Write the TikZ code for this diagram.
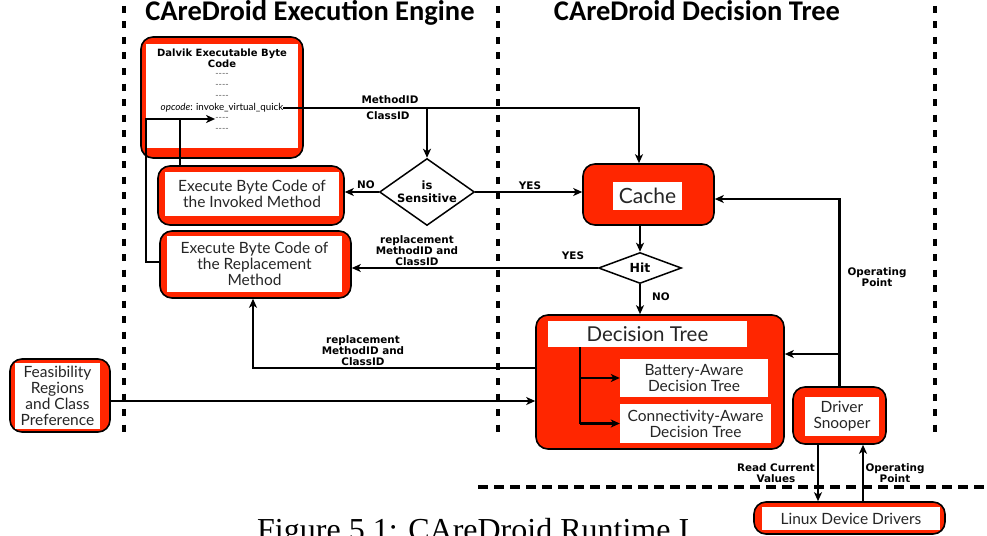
\documentclass[tikz,border=0pt]{standalone}
\usepackage{fontspec}
\usetikzlibrary{arrows.meta,shapes.geometric,calc}

\newfontfamily\bodyfont{Lato}
\newfontfamily\heavyfont{DejaVu Sans}
\newfontfamily\headfont{Carlito}
\newfontfamily\captionserif{Liberation Serif}

\definecolor{boxred}{RGB}{255,38,0}

\tikzset{
  redbox/.style={draw=black, line width=1.6pt, fill=boxred, rounded corners=12pt,
                 inner sep=0pt},
  whitebox/.style={fill=white, inner sep=0pt, align=center, text=black!85,
                   font=\bodyfont\fontsize{15.5}{16}\selectfont},
  decision/.style={diamond, draw=black, line width=1.5pt, fill=white, inner sep=0pt,
                   align=center, font=\heavyfont\bfseries\fontsize{11.5}{13}\selectfont},
  conn/.style={line width=2.2pt, -{Stealth[length=9pt,width=8pt,inset=2.5pt]}},
  plain/.style={line width=2.2pt},
  lbl/.style={align=center, inner sep=0pt,
              font=\heavyfont\bfseries\fontsize{10.4}{11}\selectfont},
  codeline/.style={inner sep=0pt, text=black!65,
                   font=\bodyfont\fontsize{9}{9}\selectfont},
  sectiontitle/.style={inner sep=0pt, anchor=base,
                       font=\headfont\bfseries\fontsize{28.5}{30}\selectfont},
  column/.style={line width=4pt, dash pattern=on 7pt off 8.5pt},
  tierline/.style={line width=4pt, dash pattern=on 10pt off 6pt},
}

\begin{document}
\begin{tikzpicture}[x=1pt, y=-1pt]
\useasboundingbox (0,0) rectangle (987,535);

% column separators
\draw[column] (124,6) -- (124,432);
\draw[column] (498,6) -- (498,432);
\draw[column] (935,6) -- (935,432);
\draw[tierline] (478,487) -- (987,487);

% section headings
\node[sectiontitle] (ttlA) at (310,21) {CAreDroid Execution Engine};
\node[sectiontitle] (ttlB) at (697,21) {CAreDroid Decision Tree};

% byte code listing
\node[redbox, minimum width=162pt, minimum height=121pt] (dalvik) at (222,97.5) {};
\node[fill=white, inner sep=0pt, minimum width=152pt, minimum height=104pt] (dalvikin) at (222,96) {};
\node[inner sep=0pt, align=center, font=\heavyfont\bfseries\fontsize{10}{10.5}\selectfont]
  (dalvikttl) at (222,58.5) {Dalvik Executable Byte\\Code};
\node[codeline] (d1) at (222,75) {----};
\node[codeline] (d2) at (222,86) {----};
\node[codeline] (d3) at (222,97) {----};
\node[inner sep=0pt, font=\bodyfont\fontsize{9.8}{10}\selectfont] (opcode) at (222,108)
  {\textit{opcode}: invoke\_virtual\_quick};
\node[codeline] (d4) at (222,119) {----};
\node[codeline] (d5) at (222,129.5) {----};

% execution boxes
\node[redbox, minimum width=186pt, minimum height=59pt] (invoked) at (251,195.5) {};
\node[whitebox, minimum width=174pt, minimum height=44pt] (invokedin) at (252,194)
  {Execute Byte Code of\\the Invoked Method};
\node[redbox, minimum width=191pt, minimum height=67pt] (replace) at (255.5,264.5) {};
\node[whitebox, minimum width=175pt, minimum height=56pt] (replacein) at (254.5,264)
  {Execute Byte Code of\\the Replacement\\Method};

% decisions
\node[decision, minimum width=95pt, minimum height=67pt, aspect=1.42] (sens) at (427,192)
  {is\\Sensitive};
\node[decision, minimum width=83pt, minimum height=31pt, aspect=2.7,
      font=\heavyfont\bfseries\fontsize{12.5}{13}\selectfont] (hit) at (640,268) {Hit};

% cache
\node[redbox, minimum width=131pt, minimum height=61pt] (cache) at (648.5,194.5) {};
\node[whitebox, minimum width=69pt, minimum height=28pt,
      font=\bodyfont\fontsize{21}{22}\selectfont] (cachein) at (647.5,196) {Cache};

% decision tree block
\node[redbox, minimum width=248pt, minimum height=134pt] (dtree) at (660,382) {};
\node[whitebox, minimum width=199pt, minimum height=26pt,
      font=\bodyfont\fontsize{20.5}{22}\selectfont] (dthead) at (647.5,334) {Decision Tree};
\node[whitebox, minimum width=148pt, minimum height=38pt] (battery) at (694,378)
  {Battery-Aware\\Decision Tree};
\node[whitebox, minimum width=151pt, minimum height=39pt] (connect) at (695.5,423.5)
  {Connectivity-Aware\\Decision Tree};
\coordinate (trunk) at ($(dthead.south west)+(32pt,0)$);
\draw[plain] (trunk) -- (trunk |- connect.west);
\draw[conn] (trunk |- battery.west) -- (battery.west);
\draw[conn] (trunk |- connect.west) -- (connect.west);

% driver side
\node[redbox, minimum width=93pt, minimum height=57pt] (snoop) at (839.5,415.5) {};
\node[whitebox, minimum width=74pt, minimum height=39pt] (snoopin) at (842,416.5)
  {Driver\\Snooper};
\node[redbox, minimum width=191pt, minimum height=32pt] (linux) at (849.5,518) {};
\node[whitebox, minimum width=178pt, minimum height=23pt] (linuxin) at (851,518.5)
  {Linux Device Drivers};

% constraints input
\node[redbox, minimum width=100pt, minimum height=73pt] (feas) at (60,395.5) {};
\node[whitebox, minimum width=85pt, minimum height=66pt] (feasin) at (57.5,396)
  {Feasibility\\Regions\\and Class\\Preference};

% invoke: method/class id to the cache and the sensitivity test
\draw[conn] (opcode.east) -| ([xshift=-9.5pt]cache.north);
\draw[conn] (sens.north |- opcode.east) -- (sens.north);
\node[lbl] (lmid) at (390,100) {MethodID};
\node[lbl] (lcid) at (388,116) {ClassID};

% sensitivity outcomes
\draw[conn] (sens.west) -- (sens.west -| invoked.east);
\node[lbl] (lno1) at (366,184.5) {NO};
\draw[conn] (sens.east) -- (sens.east -| cache.west);
\node[lbl] (lyes1) at (530,186) {YES};

% cache lookup
\draw[conn] (hit.north |- cache.south) -- (hit.north);
\draw[conn] (hit.west) -- (hit.west -| replace.east);
\node[lbl] (lyes2) at (573,256) {YES};
\node[lbl] (lrep1) at (417,251) {replacement\\MethodID and\\ClassID};
\draw[conn] (hit.south) -- (hit.south |- dtree.north);
\node[lbl] (lno2) at (661,297) {NO};

% decision tree result back to execution
\draw[conn] ([yshift=14pt]dtree.west) -| ([xshift=-2.5pt]replace.south);
\node[lbl] (lrep2) at (363,351) {replacement\\MethodID and\\ClassID};

% constraints into the decision tree
\draw[conn] ([yshift=-5.5pt]feas.east) -- ([yshift=-5.5pt]feas.east -| dtree.west);

% return paths into the byte code
\coordinate (loop) at ($(d4.west -| replace.west)+(-13pt,0)$);
\draw[conn] ([xshift=-71pt]invoked.north) |- (d4.west);
\draw[plain] ([yshift=2.5pt]replace.west) -| (loop) -- ([xshift=-71pt]invoked.north |- loop);

% operating point feedback
\coordinate (dtin) at ([yshift=28pt]dtree.east);
\draw[conn] (snoop.north) |- ([yshift=-4.5pt]cache.east);
\draw[conn] (snoop.north |- dtin) -- (dtin);
\node[lbl] (lop1) at (877,277.5) {Operating\\Point};

% driver interface
\draw[conn] ([xshift=-21.5pt]snoop.south) -- ([xshift=-21.5pt]snoop.south |- linux.north);
\draw[conn] ([xshift=23.5pt]snoop.south |- linux.north) -- ([xshift=23.5pt]snoop.south);
\node[lbl] (lread) at (776,473.5) {Read Current\\Values};
\node[lbl] (lop2) at (895,473.5) {Operating\\Point};

% caption, running past the lower edge of the page
\node[anchor=base west, inner sep=0pt, font=\captionserif\fontsize{32}{34}\selectfont]
  (caption) at (257,540) {Figure 5.1: CAreDroid Runtime I};
\end{tikzpicture}
\end{document}
